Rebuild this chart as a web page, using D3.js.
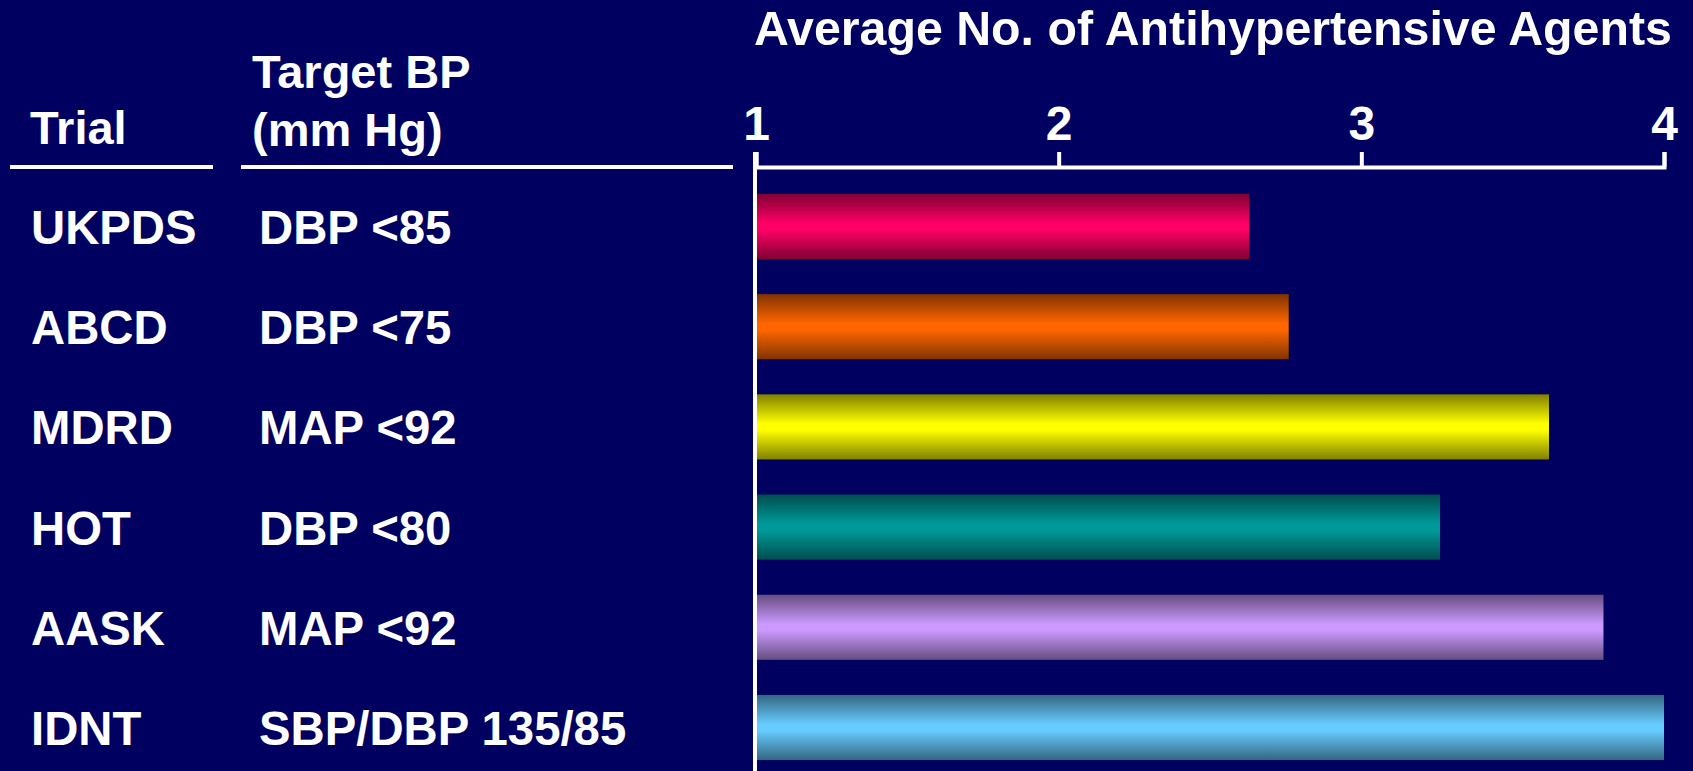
<!DOCTYPE html>
<html>
<head>
<meta charset="utf-8">
<script src="https://cdn.jsdelivr.net/npm/d3@7"></script>
<style>
  html, body { margin: 0; padding: 0; background: #000060; }
  svg { display: block; }
  text { font-family: "Liberation Sans", Arial, Helvetica, sans-serif; font-weight: bold; fill: #ffffff; }
</style>
</head>
<body>
<script>
// Trials, their blood-pressure targets and the average number of agents used
const trials = ["UKPDS", "ABCD", "MDRD", "HOT", "AASK", "IDNT"];
const targets = ["DBP <85", "DBP <75", "MAP <92", "DBP <80", "MAP <92", "SBP/DBP 135/85"];
const agents = [2.63, 2.76, 3.62, 3.26, 3.80, 4.0];
const barColors = ["#ff0066", "#ff6600", "#ffff00", "#009999", "#cc99ff", "#66ccff"];
const tickValues = [1, 2, 3, 4];

const W = 1693, H = 771;
const svg = d3.select("body").append("svg").attr("width", W).attr("height", H);

svg.append("rect").attr("width", W).attr("height", H).attr("fill", "#000060");

const x = d3.scaleLinear().domain([1, 4]).range([756, 1664]);
const y = d3.scaleBand().domain(trials).range([176.4, 777.6])
  .paddingInner(0.35).paddingOuter(0.175);

// Horizontal "tube" shading: dark edges, bright middle
const defs = svg.append("defs");
barColors.forEach((c, i) => {
  const dark = d3.interpolateRgb(c, "#000000")(0.5);
  const g = defs.append("linearGradient").attr("id", "tube" + i)
    .attr("x1", 0).attr("y1", 0).attr("x2", 0).attr("y2", 1);
  g.append("stop").attr("offset", "0%").attr("stop-color", dark);
  g.append("stop").attr("offset", "45%").attr("stop-color", c);
  g.append("stop").attr("offset", "55%").attr("stop-color", c);
  g.append("stop").attr("offset", "100%").attr("stop-color", dark);
});

// Bars
svg.append("g").selectAll("rect").data(trials).join("rect")
  .attr("x", x(1) + 1)
  .attr("y", d => y(d))
  .attr("width", (d, i) => x(agents[i]) - x(1) - 1)
  .attr("height", y.bandwidth())
  .attr("fill", (d, i) => `url(#tube${i})`);

// Top axis
const axisY = 167;
const axis = svg.append("g").attr("transform", `translate(0,${axisY})`)
  .call(d3.axisTop(x).tickValues(tickValues).tickFormat(d3.format("d"))
    .tickSizeInner(15).tickSizeOuter(15).tickPadding(12));
axis.selectAll("path, line").attr("stroke", "#ffffff").attr("stroke-width", 4);
axis.selectAll("text").attr("fill", "#ffffff").style("font-size", "48px")
  .style("font-family", "'Liberation Sans', Arial, sans-serif").style("font-weight", "bold");

// Vertical baseline at 1
svg.append("line")
  .attr("x1", x(1) - 1).attr("x2", x(1) - 1)
  .attr("y1", axisY - 15).attr("y2", H)
  .attr("stroke", "#ffffff").attr("stroke-width", 4);

// Axis title
svg.append("text").attr("x", 754).attr("y", 45)
  .style("font-size", "48.3px").text("Average No. of Antihypertensive Agents");

// Column headers
svg.append("text").attr("x", 30).attr("y", 144).style("font-size", "47px").text("Trial");
svg.append("text").attr("x", 252).attr("y", 88).style("font-size", "47px").text("Target BP");
svg.append("text").attr("x", 252).attr("y", 146).style("font-size", "47px").text("(mm Hg)");

svg.append("line").attr("x1", 10).attr("x2", 213).attr("y1", axisY).attr("y2", axisY)
  .attr("stroke", "#ffffff").attr("stroke-width", 4);
svg.append("line").attr("x1", 241).attr("x2", 733).attr("y1", axisY).attr("y2", axisY)
  .attr("stroke", "#ffffff").attr("stroke-width", 4);

// Row labels
const rowText = svg.append("g").style("font-size", "47.3px");
rowText.selectAll("text.trial").data(trials).join("text").attr("class", "trial")
  .attr("x", 31)
  .attr("y", d => y(d) + y.bandwidth() / 2 + 17.5)
  .text(d => d);
rowText.selectAll("text.target").data(trials).join("text").attr("class", "target")
  .attr("x", 259)
  .attr("y", d => y(d) + y.bandwidth() / 2 + 17.5)
  .text((d, i) => targets[i]);
</script>
</body>
</html>
